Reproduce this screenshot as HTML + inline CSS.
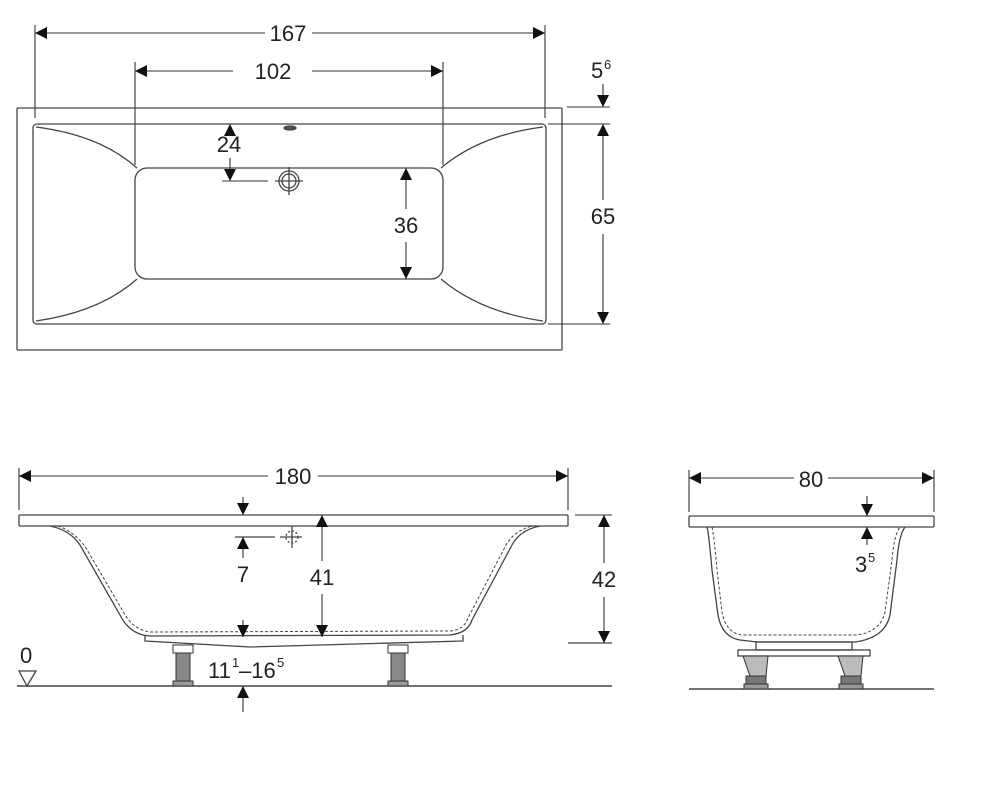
<!DOCTYPE html>
<html><head><meta charset="utf-8"><style>
html,body{margin:0;padding:0;background:#fff;}
svg{display:block;}
text{font-family:"Liberation Sans",sans-serif;fill:#222;}
</style></head><body>
<svg width="1000" height="810" viewBox="0 0 1000 810" xmlns="http://www.w3.org/2000/svg">
<defs>
<marker id="a" viewBox="0 0 10 10" refX="10" refY="5" markerWidth="12" markerHeight="12" markerUnits="userSpaceOnUse" orient="auto-start-reverse"><path d="M0,0 L10,5 L0,10 z" fill="#111"/></marker>
</defs>
<g stroke="#444" stroke-width="1.3" fill="none">
<rect x="17" y="108" width="545" height="242" rx="1"/>
<rect x="33" y="124" width="513" height="200" rx="4"/>
<rect x="135" y="168" width="308" height="111" rx="12"/>
<path d="M36,127 Q100,135 137,168"/>
<path d="M543,127 Q480,135 441,168"/>
<path d="M36,321 Q100,312 137,279"/>
<path d="M543,321 Q480,312 441,279"/>
<ellipse cx="290" cy="128" rx="6" ry="2" fill="#555"/>
<circle cx="289" cy="181" r="10"/><circle cx="289" cy="181" r="7"/>
<line x1="289" y1="167" x2="289" y2="195"/><line x1="275" y1="181" x2="303" y2="181"/>
</g>
<g stroke="#333" stroke-width="1.1" fill="none">
<line x1="35" y1="25" x2="35" y2="118"/><line x1="545" y1="25" x2="545" y2="118"/>
<line x1="35" y1="33" x2="265" y2="33" marker-start="url(#a)"/><line x1="312" y1="33" x2="545" y2="33" marker-end="url(#a)"/>
<line x1="135" y1="62" x2="135" y2="165"/><line x1="443" y1="62" x2="443" y2="165"/>
<line x1="135" y1="71" x2="233" y2="71" marker-start="url(#a)"/><line x1="312" y1="71" x2="443" y2="71" marker-end="url(#a)"/>
<line x1="567" y1="107" x2="610" y2="107"/>
<line x1="603" y1="84" x2="603" y2="107" marker-end="url(#a)"/>
<line x1="548" y1="124" x2="610" y2="124"/><line x1="548" y1="324" x2="610" y2="324"/>
<line x1="603" y1="124" x2="603" y2="200" marker-start="url(#a)"/><line x1="603" y1="234" x2="603" y2="324" marker-end="url(#a)"/>
<line x1="230" y1="124" x2="230" y2="133" marker-start="url(#a)"/><line x1="230" y1="158" x2="230" y2="181" marker-end="url(#a)"/>
<line x1="222" y1="181" x2="268" y2="181"/>
<line x1="406" y1="168" x2="406" y2="209" marker-start="url(#a)"/><line x1="406" y1="242" x2="406" y2="279" marker-end="url(#a)"/>
</g>
<text x="288" y="41" font-size="22" text-anchor="middle">167</text>
<text x="273" y="79" font-size="22" text-anchor="middle">102</text>
<text x="591" y="78" font-size="22">5</text><text x="604" y="69" font-size="13">6</text>
<text x="603" y="224" font-size="22" text-anchor="middle">65</text>
<text x="229" y="152" font-size="22" text-anchor="middle">24</text>
<text x="406" y="233" font-size="22" text-anchor="middle">36</text>

<g stroke="#444" stroke-width="1.3" fill="none">
<rect x="19" y="515" width="549" height="11" rx="1"/>
<path d="M50,526 Q70,530 80,545 L120,615 Q130,635 150,636 L450,635 Q468,633 472,620 L512,545 Q520,530 540,526"/>
<path d="M58,526 Q75,532 86,548 L124,613 Q134,631 152,632 L450,631 Q464,630 468,618 L506,545 Q514,531 532,526" stroke-dasharray="3,2" stroke-width="1"/>
<path d="M145,635 L145,641 L250,647 L463,641 L463,635"/>
<line x1="568" y1="643" x2="612" y2="643"/>
<circle cx="292" cy="537" r="6" stroke-dasharray="2,2"/>
<line x1="292" y1="526" x2="292" y2="548"/><line x1="280" y1="537" x2="302" y2="537"/>
<line x1="235" y1="537" x2="275" y2="537"/>
<line x1="17" y1="686" x2="612" y2="686" stroke-width="1.5"/>
<path d="M19,671 L36,671 L27,686 z"/>
</g>
<g fill="#666" stroke="#333" stroke-width="1">
<rect x="173" y="645" width="20" height="8" fill="#fff"/><rect x="176" y="653" width="14" height="30" fill="#888"/><rect x="173" y="681" width="20" height="5" fill="#999"/>
<rect x="388" y="645" width="20" height="8" fill="#fff"/><rect x="391" y="653" width="14" height="30" fill="#888"/><rect x="388" y="681" width="20" height="5" fill="#999"/>
</g>
<g stroke="#333" stroke-width="1.1" fill="none">
<line x1="19" y1="468" x2="19" y2="510"/><line x1="568" y1="468" x2="568" y2="510"/>
<line x1="19" y1="476" x2="268" y2="476" marker-start="url(#a)"/><line x1="318" y1="476" x2="568" y2="476" marker-end="url(#a)"/>
<line x1="243" y1="497" x2="243" y2="515" marker-end="url(#a)"/>
<line x1="243" y1="537" x2="243" y2="558" marker-start="url(#a)"/>
<line x1="322" y1="515" x2="322" y2="561" marker-start="url(#a)"/><line x1="322" y1="594" x2="322" y2="637" marker-end="url(#a)"/>
<line x1="575" y1="515" x2="612" y2="515"/>
<line x1="604" y1="515" x2="604" y2="563" marker-start="url(#a)"/><line x1="604" y1="597" x2="604" y2="643" marker-end="url(#a)"/>
<line x1="243" y1="620" x2="243" y2="637" marker-end="url(#a)"/>
<line x1="243" y1="712" x2="243" y2="686" marker-end="url(#a)"/>
</g>
<text x="293" y="484" font-size="22" text-anchor="middle">180</text>
<text x="243" y="582" font-size="22" text-anchor="middle">7</text>
<text x="322" y="585" font-size="22" text-anchor="middle">41</text>
<text x="604" y="587" font-size="22" text-anchor="middle">42</text>
<text x="20" y="663" font-size="22">0</text>
<text x="208" y="678" font-size="22">11</text><text x="232" y="667" font-size="13">1</text><text x="239" y="678" font-size="22">–16</text><text x="277" y="667" font-size="13">5</text>

<g stroke="#444" stroke-width="1.3" fill="none">
<rect x="689" y="516" width="245" height="11" rx="1"/>
<path d="M707,527 Q709,535 712,570 L718,615 Q722,637 740,640 L757,642 L855,642 Q885,638 890,615 L897,560 Q899,535 905,527"/>
<path d="M712,527 Q714,535 717,570 L722,612 Q726,633 742,635 L855,635 Q880,633 885,612 L892,560 Q894,535 900,527" stroke-dasharray="3,2" stroke-width="1"/>
<rect x="756" y="642" width="96" height="8"/>
<rect x="738" y="650" width="132" height="6"/>
<line x1="689" y1="689" x2="934" y2="689" stroke-width="1.5"/>
</g>
<g stroke="#333" stroke-width="1">
<path d="M743,656 L768,656 L766,676 L750,676 z" fill="#bbb"/><rect x="746" y="676" width="20" height="8" fill="#777"/><rect x="744" y="684" width="24" height="5" fill="#999"/>
<path d="M838,656 L863,656 L861,676 L845,676 z" fill="#bbb"/><rect x="841" y="676" width="20" height="8" fill="#777"/><rect x="839" y="684" width="24" height="5" fill="#999"/>
</g>
<g stroke="#333" stroke-width="1.1" fill="none">
<line x1="689" y1="470" x2="689" y2="512"/><line x1="934" y1="470" x2="934" y2="512"/>
<line x1="689" y1="478" x2="794" y2="478" marker-start="url(#a)"/><line x1="828" y1="478" x2="934" y2="478" marker-end="url(#a)"/>
<line x1="867" y1="496" x2="867" y2="516" marker-end="url(#a)"/>
<line x1="867" y1="527" x2="867" y2="545" marker-start="url(#a)"/>
</g>
<text x="811" y="487" font-size="22" text-anchor="middle">80</text>
<text x="855" y="572" font-size="22">3</text><text x="868" y="562" font-size="13">5</text>
</svg>
</body></html>
